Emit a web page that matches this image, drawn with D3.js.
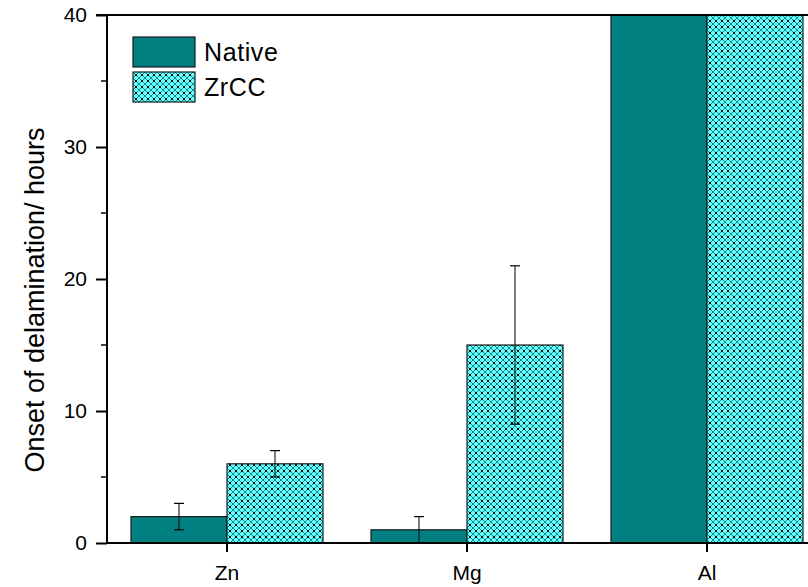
<!DOCTYPE html>
<html>
<head>
<meta charset="utf-8">
<script src="https://cdn.jsdelivr.net/npm/d3@7/dist/d3.min.js"></script>
<style>
  html, body { margin: 0; padding: 0; background: #fff; }
  svg { display: block; font-family: "Liberation Sans", Arial, sans-serif; }
</style>
</head>
<body>
<svg id="chart" width="808" height="587"></svg>
<script>
// Substrates and measured onset of delamination (hours)
const categories = ["Zn", "Mg", "Al"];
const seriesNames = ["Native", "ZrCC"];
const nativeValues = [2, 1, 40];
const nativeErrors = [1, 1, 0];
const zrccValues = [6, 15, 40];
const zrccErrors = [1, 6, 0];
const yTicks = [0, 10, 20, 30, 40];
const yMinorTicks = [5, 15, 25, 35];

const svg = d3.select("#chart");
const margin = { left: 107, top: 15, bottom: 44 };
const height = 587;
const plotBottom = height - margin.bottom;

// Band scale reaches past the right edge of the canvas
const x = d3.scaleBand().domain(categories).range([margin.left, 827]).paddingInner(0.2).paddingOuter(0.1);
const xSub = d3.scaleBand().domain(seriesNames).range([0, x.bandwidth()]);
const y = d3.scaleLinear().domain([0, 40]).range([plotBottom, margin.top]);

// Cross-hatched fill for the ZrCC series
const defs = svg.append("defs");
const pat = defs.append("pattern")
  .attr("id", "zrccHatch")
  .attr("patternUnits", "userSpaceOnUse")
  .attr("width", 6).attr("height", 6);
pat.append("rect").attr("width", 6).attr("height", 6).attr("fill", "#66ffff");
pat.append("path")
  .attr("d", "M0,0 L6,6 M6,0 L0,6 M-3,3 L3,9 M3,-3 L9,3 M-3,3 L3,-3 M3,9 L9,3")
  .attr("stroke", "#0a7f7f").attr("stroke-width", 0.9);
pat.append("rect").attr("x", 2).attr("y", 2).attr("width", 2).attr("height", 2).attr("fill", "#000");

const fills = { Native: "#008080", ZrCC: "url(#zrccHatch)" };

const rows = categories.map((c, i) => ({
  cat: c,
  bars: [
    { name: "Native", value: nativeValues[i], err: nativeErrors[i] },
    { name: "ZrCC", value: zrccValues[i], err: zrccErrors[i] }
  ]
}));

const plot = svg.append("g");
plot.append("clipPath").attr("id", "plotClip")
  .append("rect").attr("x", margin.left).attr("y", margin.top)
  .attr("width", 808 - margin.left).attr("height", plotBottom - margin.top);

const groups = plot.append("g").attr("clip-path", "url(#plotClip)")
  .selectAll("g").data(rows).join("g")
  .attr("transform", d => `translate(${x(d.cat)},0)`);

groups.selectAll("rect").data(d => d.bars).join("rect")
  .attr("x", d => xSub(d.name))
  .attr("y", d => y(d.value))
  .attr("width", xSub.bandwidth())
  .attr("height", d => y(0) - y(d.value))
  .attr("fill", d => fills[d.name])
  .attr("stroke", "#1a1a1a").attr("stroke-width", 1.2);

// Error bars
const capHalf = 5;
const eb = groups.selectAll("g.err").data(d => d.bars.filter(b => b.err > 0)).join("g").attr("class", "err");
eb.append("line")
  .attr("x1", d => xSub(d.name) + xSub.bandwidth() / 2)
  .attr("x2", d => xSub(d.name) + xSub.bandwidth() / 2)
  .attr("y1", d => y(d.value + d.err))
  .attr("y2", d => y(Math.max(0, d.value - d.err)))
  .attr("stroke", "#000").attr("stroke-width", 1);
[1, -1].forEach(s => {
  eb.append("line")
    .attr("x1", d => xSub(d.name) + xSub.bandwidth() / 2 - capHalf)
    .attr("x2", d => xSub(d.name) + xSub.bandwidth() / 2 + capHalf)
    .attr("y1", d => y(Math.max(0, d.value + s * d.err)))
    .attr("y2", d => y(Math.max(0, d.value + s * d.err)))
    .attr("stroke", "#000").attr("stroke-width", 1.2);
});

// Axes
const yAxis = svg.append("g").attr("transform", `translate(${margin.left},0)`)
  .call(d3.axisLeft(y).tickValues(yTicks).tickSize(11).tickPadding(9).tickFormat(d3.format("d")));
yAxis.selectAll(".tick text").attr("font-size", 21).attr("fill", "#000")
  .attr("font-family", "Liberation Sans, Arial, sans-serif");
yAxis.append("g").selectAll("line").data(yMinorTicks).join("line")
  .attr("x1", -6).attr("x2", 0).attr("y1", d => y(d)).attr("y2", d => y(d))
  .attr("stroke", "#000").attr("stroke-width", 1.5);

const xAxis = svg.append("g").attr("transform", `translate(0,${plotBottom})`)
  .call(d3.axisBottom(x).tickSize(9).tickPadding(13).tickSizeOuter(0));
xAxis.selectAll(".tick text").attr("font-size", 21).attr("fill", "#000")
  .attr("font-family", "Liberation Sans, Arial, sans-serif");

[yAxis, xAxis].forEach(a => {
  a.select(".domain").attr("stroke", "#000").attr("stroke-width", 2);
  a.selectAll(".tick line").attr("stroke", "#000").attr("stroke-width", 2);
});
yAxis.select(".domain").attr("d", `M-11,${margin.top}H0V${plotBottom}`);
xAxis.select(".domain").attr("d", `M${margin.left},0H808`);

// Top frame line
svg.append("line").attr("x1", margin.left).attr("x2", 808)
  .attr("y1", margin.top).attr("y2", margin.top)
  .attr("stroke", "#000").attr("stroke-width", 2);

// Y axis title
svg.append("text")
  .attr("transform", `translate(44,300) rotate(-90)`)
  .attr("text-anchor", "middle")
  .attr("font-size", 27).attr("fill", "#000")
  .text("Onset of delamination/ hours");

// Legend
const legend = svg.append("g").attr("transform", "translate(133,37)");
seriesNames.forEach((n, i) => {
  const g = legend.append("g").attr("transform", `translate(0,${i * 35})`);
  g.append("rect").attr("width", 62).attr("height", 30)
    .attr("fill", fills[n]).attr("stroke", "#1a1a1a").attr("stroke-width", 1.2);
  g.append("text").attr("x", 71).attr("y", 24)
    .attr("font-size", 25).attr("fill", "#000").attr("letter-spacing", 0.6).text(n);
});
</script>
</body>
</html>
